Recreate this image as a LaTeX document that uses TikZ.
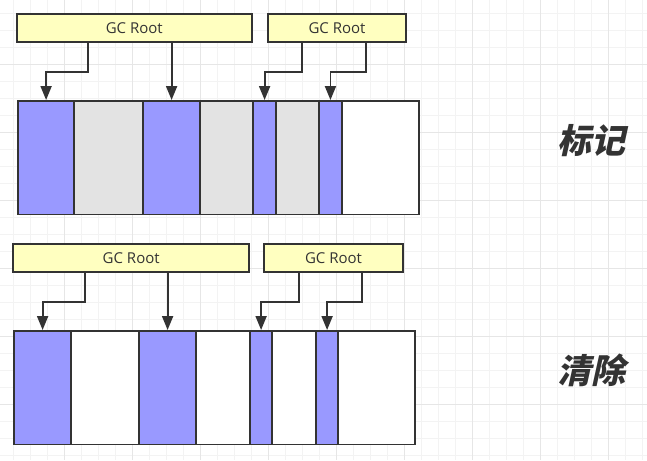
\documentclass[tikz,border=0pt]{standalone}
\usepackage{fontspec}
\setmainfont{Open Sans}
\newfontfamily\cjk[FakeSlant=0.22]{Noto Sans CJK SC}
\usetikzlibrary{arrows.meta}
\definecolor{ink}{HTML}{333333}
\definecolor{live}{HTML}{9999FF}
\definecolor{dead}{HTML}{E3E3E3}
\definecolor{rootfill}{HTML}{FFFFC0}
\definecolor{gridminor}{HTML}{F3F3F3}
\definecolor{gridmajor}{HTML}{E6E6E6}
\tikzset{
  rootbox/.style={draw=ink, line width=1.9pt, fill=rootfill, inner sep=0pt,
    minimum height=27.7pt, font=\fontsize{15}{17}\selectfont, text=ink},
  cell/.style={draw=ink, line width=1.9pt, inner sep=0pt, minimum height=113.5pt},
  livecell/.style={cell, fill=live},
  deadcell/.style={cell, fill=dead},
  freecell/.style={cell, fill=white},
  arr/.style={draw=ink, line width=1.9pt, -{Triangle[width=11pt,length=14pt]}},
  title/.style={text=ink, font=\cjk\bfseries\fontsize{34}{38}\selectfont}
}
\newcommand{\cellat}[5]{% name, style, left, right, top
  \pgfmathsetmacro{\cw}{#4-#3}%
  \node[#2, minimum width=\cw pt, anchor=north west] (#1) at (#3,#5) {};}
\begin{document}
\begin{tikzpicture}[x=1pt,y=-1pt]
\useasboundingbox (0,0) rectangle (647,460);
\fill[white] (0,0) rectangle (647,460);
% grid
\foreach \i in {0,...,37} {
  \pgfmathsetmacro{\gx}{13+17*\i}
  \draw[gridminor, line width=0.9pt] (\gx,0) -- (\gx,460);
}
\foreach \i in {0,...,26} {
  \pgfmathsetmacro{\gy}{13.3+17*\i}
  \draw[gridminor, line width=0.9pt] (0,\gy) -- (647,\gy);
}
\foreach \i in {0,...,9} {
  \pgfmathsetmacro{\gx}{64+68*\i}
  \draw[gridmajor, line width=0.9pt] (\gx,0) -- (\gx,460);
}
\foreach \i in {0,...,6} {
  \pgfmathsetmacro{\gy}{64.3+68*\i}
  \draw[gridmajor, line width=0.9pt] (0,\gy) -- (647,\gy);
}
% ---------- top: marking ----------
\node[rootbox, minimum width=235.3pt] (ra) at (134.3,27.8) {GC Root};
\node[rootbox, minimum width=138pt] (rb) at (337,27.8) {GC Root};
\cellat{a1}{livecell}{17}{73.3}{100}
\cellat{a2}{deadcell}{73.3}{142.3}{100}
\cellat{a3}{livecell}{142.3}{199}{100}
\cellat{a4}{deadcell}{199}{252.3}{100}
\cellat{a5}{livecell}{252.3}{275}{100}
\cellat{a6}{deadcell}{275}{318.3}{100}
\cellat{a7}{livecell}{318.3}{340.7}{100}
\cellat{a8}{freecell}{340.7}{418}{100}
\draw[arr] ([xshift=72.3pt]ra.south west) -- ++(0,29) -| (a1.north);
\draw[arr] (ra.south -| a3.north) -- (a3.north);
\draw[arr] ([xshift=35pt]rb.south west) -- ++(0,29) -| (a5.north);
\draw[arr] ([xshift=99pt]rb.south west) -- ++(0,29) -| (a7.north);
\node[title] (mark) at (591,141) {标记};
% ---------- bottom: sweeping ----------
\node[rootbox, minimum width=235.7pt] (rc) at (131.2,257.8) {GC Root};
\node[rootbox, minimum width=138.4pt] (rd) at (333.5,257.8) {GC Root};
\cellat{b1}{livecell}{13.3}{70}{330}
\cellat{b2}{freecell}{70}{138.3}{330}
\cellat{b3}{livecell}{138.3}{195}{330}
\cellat{b4}{freecell}{195}{249.3}{330}
\cellat{b5}{livecell}{249.3}{271}{330}
\cellat{b6}{freecell}{271}{315}{330}
\cellat{b7}{livecell}{315}{337.3}{330}
\cellat{b8}{freecell}{337.3}{414.3}{330}
\draw[arr] ([xshift=72.4pt]rc.south west) -- ++(0,29) -| (b1.north);
\draw[arr] (rc.south -| b3.north) -- (b3.north);
\draw[arr] ([xshift=35.7pt]rd.south west) -- ++(0,29) -| (b5.north);
\draw[arr] ([xshift=98.4pt]rd.south west) -- ++(0,29) -| (b7.north);
\node[title] (sweep) at (591,370) {清除};
\end{tikzpicture}
\end{document}
